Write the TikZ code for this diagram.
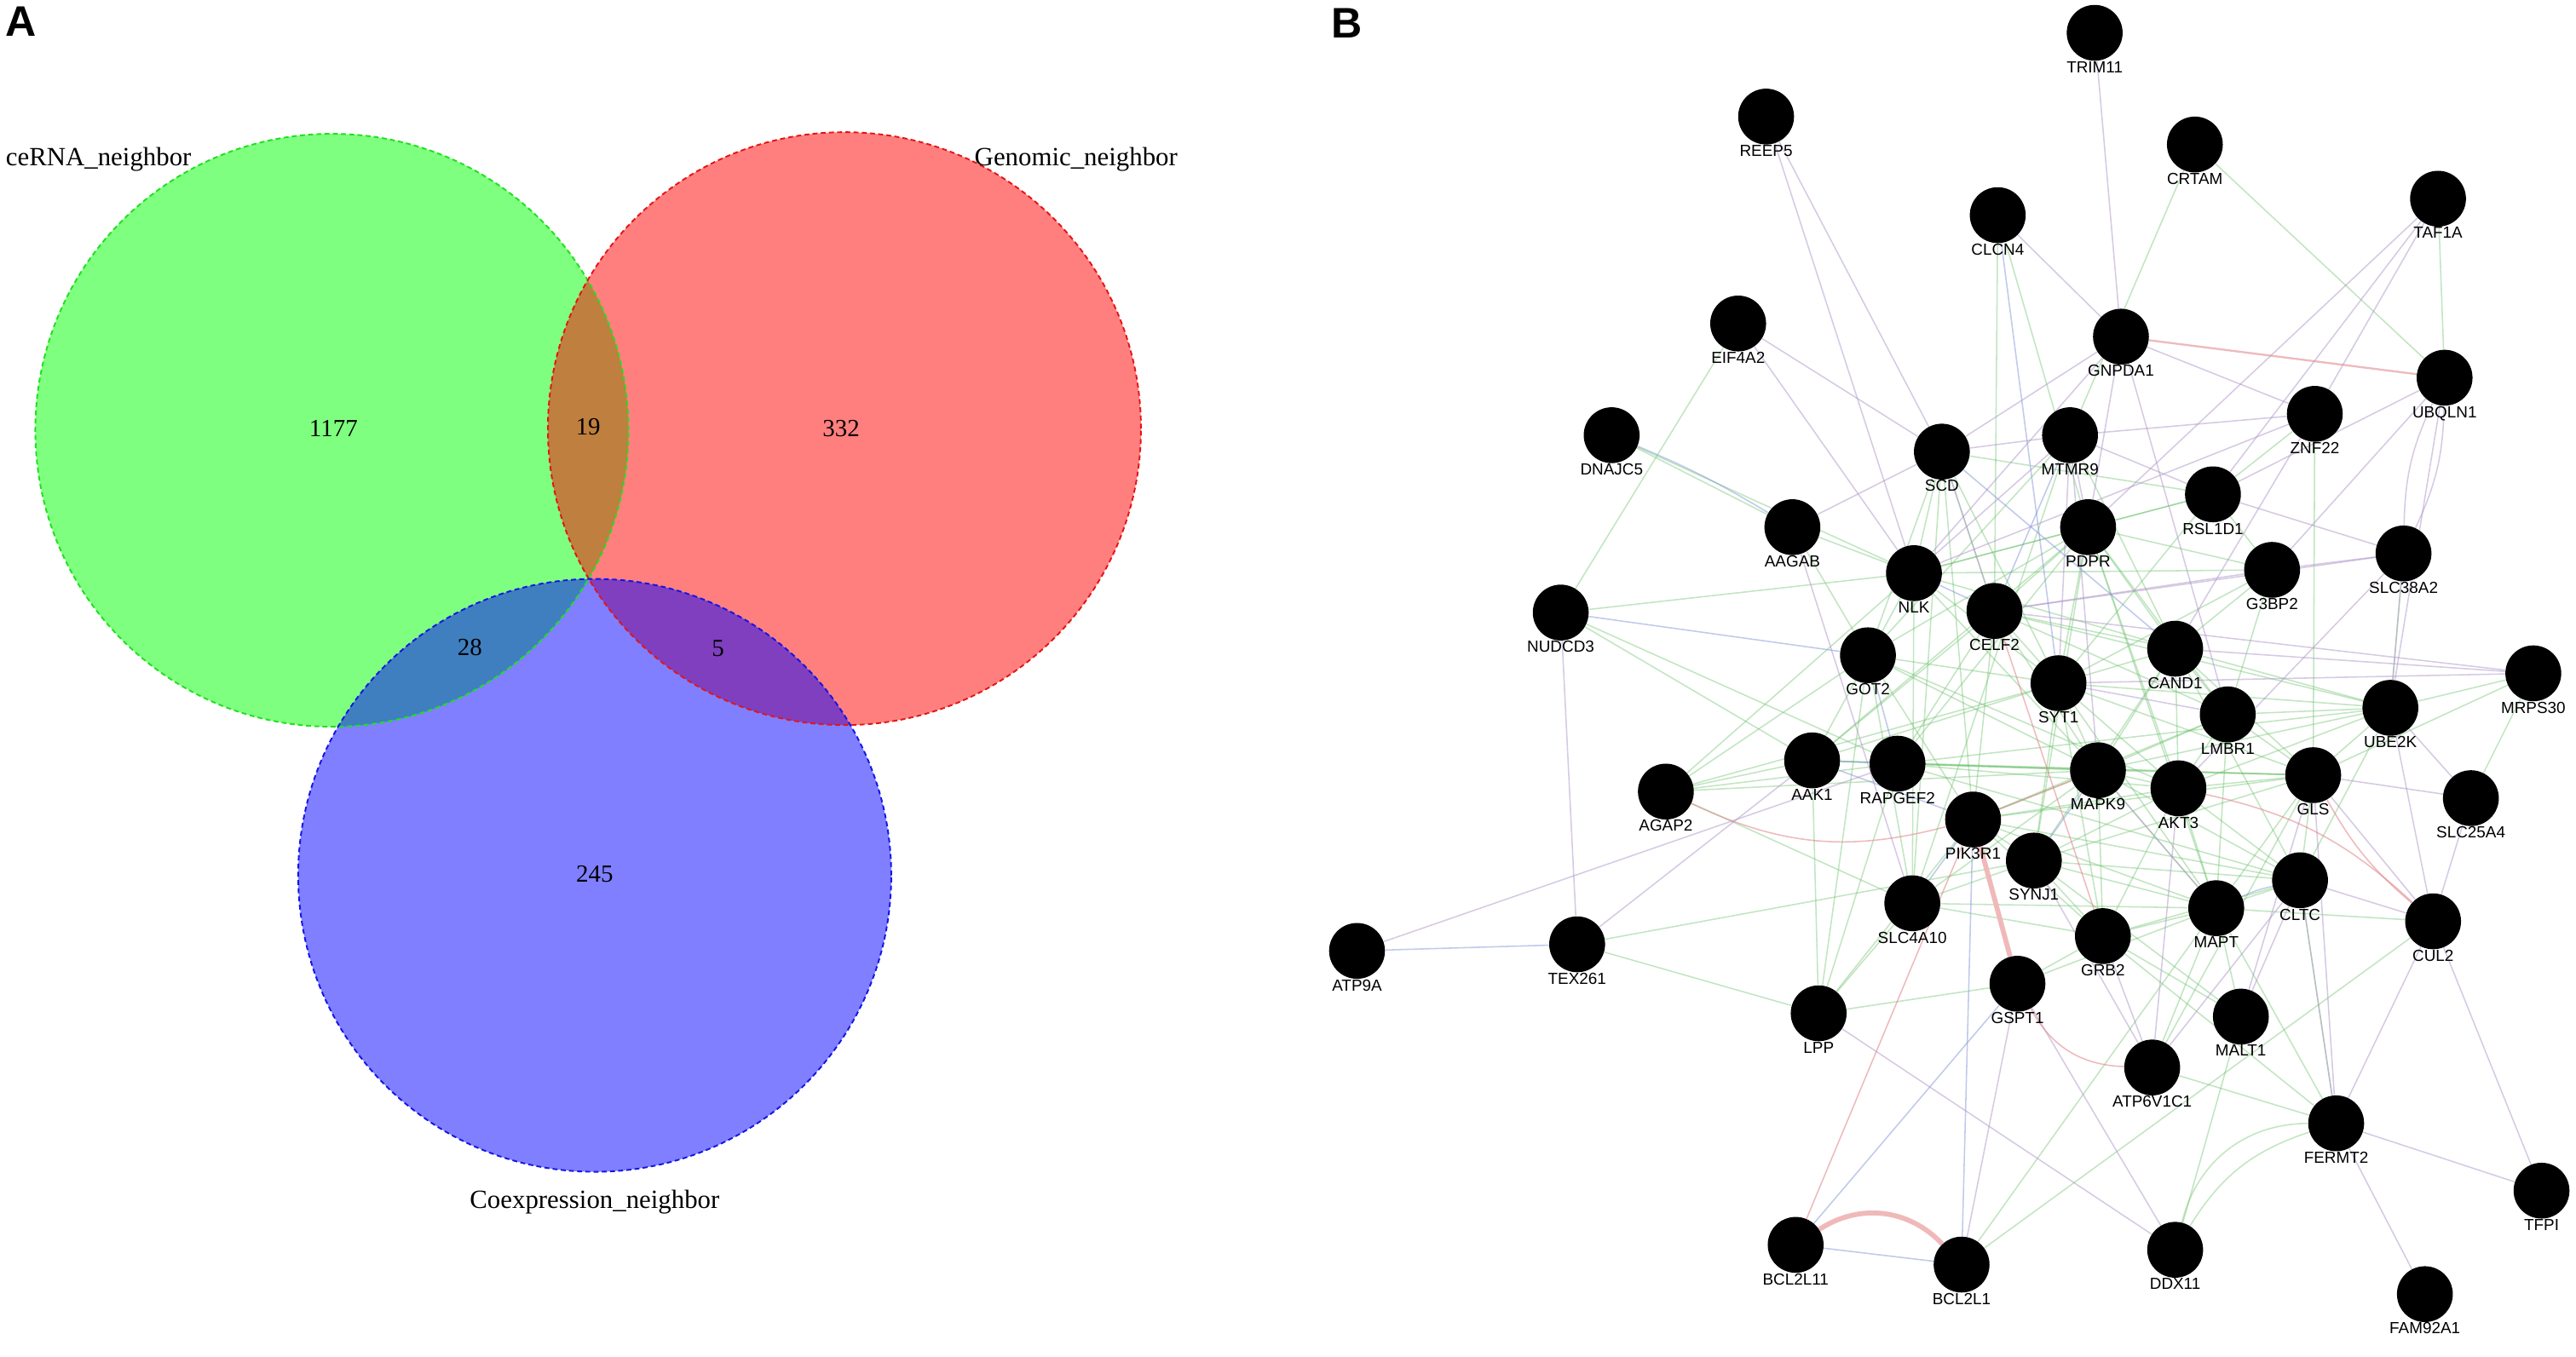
\documentclass[tikz,border=0pt]{standalone}
\usepackage{fontspec}
\setmainfont{Liberation Serif}
\newfontfamily\genefont{Liberation Sans}
\usepackage{tikz}
\usetikzlibrary{positioning}
\pgfdeclarelayer{edges}
\pgfsetlayers{edges,main}
\definecolor{vgreenline}{RGB}{30,225,30}
\definecolor{vredline}{RGB}{230,20,20}
\definecolor{vblueline}{RGB}{20,20,230}
\definecolor{gmgreen}{RGB}{110,195,110}
\definecolor{gmpurple}{RGB}{175,150,200}
\definecolor{gmblue}{RGB}{130,150,215}
\definecolor{gmpink}{RGB}{225,130,135}
\definecolor{gmpinkthick}{RGB}{240,185,185}

\begin{document}
\begin{tikzpicture}[line join=bevel,
  gene/.style={circle,fill=black,minimum size=34bp,inner sep=0pt,label distance=3.5bp},
  genelab/.style={font=\genefont\fontsize{9.8bp}{10bp}\selectfont,inner sep=0pt},
  vlab/.style={font=\fontsize{16bp}{18bp}\selectfont,inner sep=0pt},
  vnum/.style={font=\fontsize{15bp}{17bp}\selectfont,inner sep=0pt},
  panel/.style={font=\genefont\bfseries\fontsize{26bp}{28bp}\selectfont,inner sep=0pt},
  vborder/.style={line width=1bp,dash pattern=on 3bp off 2bp},
  genint/.style={draw=gmgreen,line width=0.8bp,draw opacity=0.42},
  coexp/.style={draw=gmpurple,line width=0.8bp,draw opacity=0.5},
  coloc/.style={draw=gmblue,line width=0.8bp,draw opacity=0.5},
  physint/.style={draw=gmpink,line width=0.8bp,draw opacity=0.55},
  physthick/.style={draw=gmpinkthick,line width=3bp}]
\begin{pgfonlayer}{edges}
\fill[white] (0bp,0bp) rectangle (1568bp,826bp);
\end{pgfonlayer}
\useasboundingbox (0bp,0bp) rectangle (1568bp,826bp);
%%
\node (panel_a) at (13bp,813bp) [panel] {A};
\node (panel_b) at (820bp,812bp) [panel] {B};
%% venn diagram
\fill [green,fill opacity=0.5] (202bp,564bp) circle (180.5bp);
\fill [red,fill opacity=0.5] (514bp,565bp) circle (180.5bp);
\fill [blue,fill opacity=0.5] (362bp,293bp) circle (180.5bp);
\draw [vborder,draw=vgreenline] (202bp,564bp) circle (180.5bp);
\draw [vborder,draw=vredline] (514bp,565bp) circle (180.5bp);
\draw [vborder,draw=vblueline] (362bp,293bp) circle (180.5bp);
\node (lab_cerna) at (60bp,729bp) [vlab] {ceRNA\_neighbor};
\node (lab_genomic) at (655bp,729bp) [vlab] {Genomic\_neighbor};
\node (lab_coexp) at (362bp,94bp) [vlab] {Coexpression\_neighbor};
\node (cnt_1177) at (203bp,565bp) [vnum] {1177};
\node (cnt_19) at (358bp,566bp) [vnum] {19};
\node (cnt_332) at (512bp,565bp) [vnum] {332};
\node (cnt_28) at (286bp,432bp) [vnum] {28};
\node (cnt_5) at (437bp,431bp) [vnum] {5};
\node (cnt_245) at (362bp,294bp) [vnum] {245};
%% network
\node (TRIM11) at (1275bp,806bp) [gene,label={[genelab]below:TRIM11}] {};
\node (REEP5) at (1075bp,755bp) [gene,label={[genelab]below:REEP5}] {};
\node (CRTAM) at (1336bp,738bp) [gene,label={[genelab]below:CRTAM}] {};
\node (TAF1A) at (1484bp,705bp) [gene,label={[genelab]below:TAF1A}] {};
\node (CLCN4) at (1216bp,695bp) [gene,label={[genelab]below:CLCN4}] {};
\node (EIF4A2) at (1058bp,629bp) [gene,label={[genelab]below:EIF4A2}] {};
\node (GNPDA1) at (1291bp,621bp) [gene,label={[genelab]below:GNPDA1}] {};
\node (UBQLN1) at (1488bp,596bp) [gene,label={[genelab]below:UBQLN1}] {};
\node (DNAJC5) at (981bp,561bp) [gene,label={[genelab]below:DNAJC5}] {};
\node (ZNF22) at (1409bp,574bp) [gene,label={[genelab]below:ZNF22}] {};
\node (MTMR9) at (1260bp,561bp) [gene,label={[genelab]below:MTMR9}] {};
\node (SCD) at (1182bp,551bp) [gene,label={[genelab]below:SCD}] {};
\node (RSL1D1) at (1347bp,525bp) [gene,label={[genelab]below:RSL1D1}] {};
\node (AAGAB) at (1091bp,505bp) [gene,label={[genelab]below:AAGAB}] {};
\node (PDPR) at (1271bp,505bp) [gene,label={[genelab]below:PDPR}] {};
\node (SLC38A2) at (1463bp,489bp) [gene,label={[genelab]below:SLC38A2}] {};
\node (G3BP2) at (1383bp,479bp) [gene,label={[genelab]below:G3BP2}] {};
\node (NLK) at (1165bp,477bp) [gene,label={[genelab]below:NLK}] {};
\node (CELF2) at (1214bp,454bp) [gene,label={[genelab]below:CELF2}] {};
\node (NUDCD3) at (950bp,453bp) [gene,label={[genelab]below:NUDCD3}] {};
\node (CAND1) at (1324bp,431bp) [gene,label={[genelab]below:CAND1}] {};
\node (GOT2) at (1137bp,427bp) [gene,label={[genelab]below:GOT2}] {};
\node (SYT1) at (1253bp,410bp) [gene,label={[genelab]below:SYT1}] {};
\node (MRPS30) at (1542bp,416bp) [gene,label={[genelab]below:MRPS30}] {};
\node (UBE2K) at (1455bp,395bp) [gene,label={[genelab]below:UBE2K}] {};
\node (LMBR1) at (1356bp,391bp) [gene,label={[genelab]below:LMBR1}] {};
\node (AAK1) at (1103bp,363bp) [gene,label={[genelab]below:AAK1}] {};
\node (RAPGEF2) at (1155bp,361bp) [gene,label={[genelab]below:RAPGEF2}] {};
\node (MAPK9) at (1277bp,357bp) [gene,label={[genelab]below:MAPK9}] {};
\node (AKT3) at (1326bp,346bp) [gene,label={[genelab]below:AKT3}] {};
\node (GLS) at (1408bp,354bp) [gene,label={[genelab]below:GLS}] {};
\node (AGAP2) at (1014bp,344bp) [gene,label={[genelab]below:AGAP2}] {};
\node (SLC25A4) at (1504bp,340bp) [gene,label={[genelab]below:SLC25A4}] {};
\node (PIK3R1) at (1201bp,327bp) [gene,label={[genelab]below:PIK3R1}] {};
\node (SYNJ1) at (1238bp,302bp) [gene,label={[genelab]below:SYNJ1}] {};
\node (CLTC) at (1400bp,290bp) [gene,label={[genelab]below:CLTC}] {};
\node (MAPT) at (1349bp,273bp) [gene,label={[genelab]below:MAPT}] {};
\node (SLC4A10) at (1164bp,276bp) [gene,label={[genelab]below:SLC4A10}] {};
\node (GRB2) at (1280bp,256bp) [gene,label={[genelab]below:GRB2}] {};
\node (CUL2) at (1481bp,265bp) [gene,label={[genelab]below:CUL2}] {};
\node (ATP9A) at (826bp,247bp) [gene,label={[genelab]below:ATP9A}] {};
\node (TEX261) at (960bp,251bp) [gene,label={[genelab]below:TEX261}] {};
\node (GSPT1) at (1228bp,227bp) [gene,label={[genelab]below:GSPT1}] {};
\node (LPP) at (1107bp,209bp) [gene,label={[genelab]below:LPP}] {};
\node (MALT1) at (1364bp,207bp) [gene,label={[genelab]below:MALT1}] {};
\node (ATP6V1C1) at (1310bp,176bp) [gene,label={[genelab]below:ATP6V1C1}] {};
\node (FERMT2) at (1422bp,142bp) [gene,label={[genelab]below:FERMT2}] {};
\node (TFPI) at (1547bp,101bp) [gene,label={[genelab]below:TFPI}] {};
\node (BCL2L11) at (1093bp,68bp) [gene,label={[genelab]below:BCL2L11}] {};
\node (BCL2L1) at (1194bp,56bp) [gene,label={[genelab]below:BCL2L1}] {};
\node (DDX11) at (1324bp,65bp) [gene,label={[genelab]below:DDX11}] {};
\node (FAM92A1) at (1476bp,38bp) [gene,label={[genelab]below:FAM92A1}] {};
\begin{pgfonlayer}{edges}
%% genetic interactions
\draw [genint] (AGAP2) -- (AAK1);
\draw [genint] (AGAP2) -- (RAPGEF2);
\draw [genint] (AGAP2) -- (NLK);
\draw [genint] (AGAP2) -- (GOT2);
\draw [genint] (AGAP2) -- (MAPK9);
\draw [genint] (AGAP2) -- (SYT1);
\draw [genint] (AGAP2) -- (SLC4A10);
\draw [genint] (AAK1) -- (NLK);
\draw [genint] (AAK1) -- (CELF2);
\draw [genint] (AAK1) -- (SYT1);
\draw [genint] (AAK1) -- (PDPR);
\draw [genint] (AAK1) -- (LPP);
\draw [genint] (AAK1) -- (MAPK9);
\draw [genint] (AAK1) -- (GLS);
\draw [genint] (RAPGEF2) -- (MAPK9);
\draw [genint] (RAPGEF2) -- (AKT3);
\draw [genint] (RAPGEF2) -- (GLS);
\draw [genint] (RAPGEF2) -- (UBE2K);
\draw [genint] (RAPGEF2) -- (CELF2);
\draw [genint] (RAPGEF2) -- (PDPR);
\draw [genint] (RAPGEF2) -- (LPP);
\draw [genint] (RAPGEF2) -- (CLTC);
\draw [genint] (NLK) -- (PDPR);
\draw [genint] (NLK) -- (SYT1);
\draw [genint] (NLK) -- (CAND1);
\draw [genint] (NLK) -- (G3BP2);
\draw [genint] (NLK) -- (MAPK9);
\draw [genint] (NLK) -- (SLC4A10);
\draw [genint] (NLK) -- (NUDCD3);
\draw [genint] (NLK) -- (RSL1D1);
\draw [genint] (CELF2) -- (SYT1);
\draw [genint] (CELF2) -- (PDPR);
\draw [genint] (CELF2) -- (CAND1);
\draw [genint] (CELF2) -- (MAPK9);
\draw [genint] (CELF2) -- (PIK3R1);
\draw [genint] (CELF2) -- (LMBR1);
\draw [genint] (CELF2) -- (UBE2K);
\draw [genint] (CELF2) -- (SCD);
\draw [genint] (GOT2) -- (SYT1);
\draw [genint] (GOT2) -- (PIK3R1);
\draw [genint] (GOT2) -- (MAPK9);
\draw [genint] (GOT2) -- (SLC4A10);
\draw [genint] (GOT2) -- (AKT3);
\draw [genint] (GOT2) -- (PDPR);
\draw [genint] (GOT2) -- (LPP);
\draw [genint] (SYT1) -- (MAPK9);
\draw [genint] (SYT1) -- (CAND1);
\draw [genint] (SYT1) -- (GLS);
\draw [genint] (SYT1) -- (AKT3);
\draw [genint] (SYT1) -- (SYNJ1);
\draw [genint] (SYT1) -- (PDPR);
\draw [genint] (SYT1) -- (GRB2);
\draw [genint] (SYT1) -- (MAPT);
\draw [genint] (SYT1) -- (UBE2K);
\draw [genint] (SYT1) -- (RSL1D1);
\draw [genint] (SYT1) -- (G3BP2);
\draw [genint] (PDPR) -- (CAND1);
\draw [genint] (PDPR) -- (LMBR1);
\draw [genint] (PDPR) -- (RSL1D1);
\draw [genint] (PDPR) -- (G3BP2);
\draw [genint] (PDPR) -- (SYNJ1);
\draw [genint] (PDPR) -- (MAPT);
\draw [genint] (PDPR) -- (AKT3);
\draw [genint] (MTMR9) -- (GOT2);
\draw [genint] (MTMR9) -- (SLC4A10);
\draw [genint] (MTMR9) -- (CAND1);
\draw [genint] (SCD) -- (NLK);
\draw [genint] (SCD) -- (SYT1);
\draw [genint] (SCD) -- (GOT2);
\draw [genint] (SCD) -- (PIK3R1);
\draw [genint] (SCD) -- (RSL1D1);
\draw [genint] (SCD) -- (SLC4A10);
\draw [genint] (CAND1) -- (LMBR1);
\draw [genint] (CAND1) -- (GLS);
\draw [genint] (CAND1) -- (MAPK9);
\draw [genint] (CAND1) -- (AKT3);
\draw [genint] (CAND1) -- (UBE2K);
\draw [genint] (CAND1) -- (CLTC);
\draw [genint] (CAND1) -- (SYNJ1);
\draw [genint] (LMBR1) -- (GLS);
\draw [genint] (LMBR1) -- (MAPK9);
\draw [genint] (LMBR1) -- (AKT3);
\draw [genint] (LMBR1) -- (UBE2K);
\draw [genint] (LMBR1) -- (PIK3R1);
\draw [genint] (LMBR1) -- (MAPT);
\draw [genint] (MAPK9) -- (AKT3);
\draw [genint] (MAPK9) -- (GLS);
\draw [genint] (MAPK9) -- (PIK3R1);
\draw [genint] (MAPK9) -- (GRB2);
\draw [genint] (MAPK9) -- (MAPT);
\draw [genint] (MAPK9) -- (CLTC);
\draw [genint] (MAPK9) -- (UBE2K);
\draw [genint] (MAPK9) -- (SLC4A10);
\draw [genint] (AKT3) -- (GLS);
\draw [genint] (AKT3) -- (MAPT);
\draw [genint] (AKT3) -- (CLTC);
\draw [genint] (AKT3) -- (SYNJ1);
\draw [genint] (AKT3) -- (PIK3R1);
\draw [genint] (AKT3) -- (GRB2);
\draw [genint] (AKT3) -- (UBE2K);
\draw [genint] (GLS) -- (UBE2K);
\draw [genint] (GLS) -- (CLTC);
\draw [genint] (GLS) -- (MAPT);
\draw [genint] (GLS) -- (PIK3R1);
\draw [genint] (GLS) -- (SYNJ1);
\draw [genint] (GLS) -- (MRPS30);
\draw [genint] (PIK3R1) -- (SYNJ1);
\draw [genint] (PIK3R1) -- (GRB2);
\draw [genint] (PIK3R1) -- (MAPT);
\draw [genint] (PIK3R1) -- (CLTC);
\draw [genint] (PIK3R1) -- (LPP);
\draw [genint] (SYNJ1) -- (GRB2);
\draw [genint] (SYNJ1) -- (MAPT);
\draw [genint] (SYNJ1) -- (CLTC);
\draw [genint] (SYNJ1) -- (SLC4A10);
\draw [genint] (SYNJ1) -- (MALT1);
\draw [genint] (SLC4A10) -- (GRB2);
\draw [genint] (SLC4A10) -- (LPP);
\draw [genint] (SLC4A10) -- (MAPT);
\draw [genint] (GRB2) -- (MAPT);
\draw [genint] (GRB2) -- (CLTC);
\draw [genint] (GRB2) -- (GSPT1);
\draw [genint] (GRB2) -- (FERMT2);
\draw [genint] (GRB2) -- (MALT1);
\draw [genint] (MAPT) -- (CLTC);
\draw [genint] (MAPT) -- (MALT1);
\draw [genint] (MAPT) -- (CUL2);
\draw [genint] (MAPT) -- (GSPT1);
\draw [genint] (CLTC) -- (UBE2K);
\draw [genint] (CLTC) -- (FERMT2);
\draw [genint] (UBE2K) -- (MRPS30);
\draw [genint] (UBE2K) -- (SLC38A2);
\draw [genint] (G3BP2) -- (RSL1D1);
\draw [genint] (G3BP2) -- (LMBR1);
\draw [genint] (G3BP2) -- (CAND1);
\draw [genint] (RSL1D1) -- (ZNF22);
\draw [genint] (ZNF22) -- (GLS);
\draw [genint] (TEX261) -- (LPP);
\draw [genint] (TEX261) -- (SYNJ1);
\draw [genint] (NUDCD3) -- (AAK1);
\draw [genint] (NUDCD3) -- (RAPGEF2);
\draw [genint] (EIF4A2) -- (NUDCD3);
\draw [genint] (DNAJC5) -- (AAGAB);
\draw [genint] (DNAJC5) -- (NLK);
\draw [genint] (AAGAB) -- (NLK);
\draw [genint] (AAGAB) -- (GOT2);
\draw [genint] (CRTAM) -- (UBQLN1);
\draw [genint] (CRTAM) -- (MTMR9);
\draw [genint] (TAF1A) -- (UBQLN1);
\draw [genint] (CLCN4) -- (CELF2);
\draw [genint] (CLCN4) -- (PDPR);
\draw [genint] (DDX11) -- (MALT1);
\draw [genint] (DDX11) to [bend left=20] (FERMT2);
\draw [genint] (DDX11) to [bend left=38] (FERMT2);
\draw [genint] (BCL2L1) -- (CUL2);
\draw [genint] (BCL2L1) -- (MAPT);
\draw [genint] (LPP) -- (GSPT1);
\draw [genint] (FERMT2) -- (MAPT);
\draw [genint] (FERMT2) -- (ATP6V1C1);
\draw [genint] (MRPS30) -- (SLC25A4);
\draw [genint] (ATP6V1C1) -- (MAPT);
\draw [genint] (ATP6V1C1) -- (GLS);
%% co-expression
\draw [coexp] (TRIM11) -- (GNPDA1);
\draw [coexp] (REEP5) -- (SCD);
\draw [coexp] (REEP5) -- (NLK);
\draw [coexp] (EIF4A2) -- (SCD);
\draw [coexp] (EIF4A2) -- (NLK);
\draw [coexp] (CLCN4) -- (GNPDA1);
\draw [coexp] (TAF1A) -- (PDPR);
\draw [coexp] (TAF1A) -- (ZNF22);
\draw [coexp] (TAF1A) -- (RSL1D1);
\draw [coexp] (GNPDA1) -- (ZNF22);
\draw [coexp] (GNPDA1) -- (SCD);
\draw [coexp] (GNPDA1) -- (NLK);
\draw [coexp] (GNPDA1) -- (PDPR);
\draw [coexp] (GNPDA1) -- (LMBR1);
\draw [coexp] (UBQLN1) to [bend left=12] (SLC38A2);
\draw [coexp] (UBQLN1) to [bend right=12] (SLC38A2);
\draw [coexp] (UBQLN1) -- (RSL1D1);
\draw [coexp] (UBQLN1) -- (UBE2K);
\draw [coexp] (UBQLN1) -- (G3BP2);
\draw [coexp] (ZNF22) -- (MTMR9);
\draw [coexp] (ZNF22) -- (CAND1);
\draw [coexp] (ZNF22) -- (NLK);
\draw [coexp] (RSL1D1) -- (SLC38A2);
\draw [coexp] (RSL1D1) -- (MTMR9);
\draw [coexp] (G3BP2) -- (SLC38A2);
\draw [coexp] (SLC38A2) -- (CELF2);
\draw [coexp] (SLC38A2) -- (AKT3);
\draw [coexp] (SLC38A2) -- (UBE2K);
\draw [coexp] (MRPS30) -- (CELF2);
\draw [coexp] (MRPS30) -- (SYT1);
\draw [coexp] (CAND1) -- (MRPS30);
\draw [coexp] (NUDCD3) -- (TEX261);
\draw [coexp] (ATP9A) -- (RAPGEF2);
\draw [coexp] (TEX261) -- (AAK1);
\draw [coexp] (AAGAB) -- (SCD);
\draw [coexp] (AAGAB) -- (SLC4A10);
\draw [coexp] (SCD) -- (MTMR9);
\draw [coexp] (SCD) -- (CELF2);
\draw [coexp] (MTMR9) -- (MAPK9);
\draw [coexp] (MTMR9) -- (NLK);
\draw [coexp] (MTMR9) -- (SYT1);
\draw [coexp] (PDPR) -- (MTMR9);
\draw [coexp] (CELF2) -- (G3BP2);
\draw [coexp] (SYT1) -- (LMBR1);
\draw [coexp] (MAPK9) -- (MAPT);
\draw [coexp] (CUL2) -- (SLC25A4);
\draw [coexp] (CUL2) -- (TFPI);
\draw [coexp] (CLTC) -- (CUL2);
\draw [coexp] (FERMT2) -- (TFPI);
\draw [coexp] (FERMT2) -- (FAM92A1);
\draw [coexp] (FERMT2) -- (CUL2);
\draw [coexp] (FERMT2) -- (CLTC);
\draw [coexp] (FERMT2) -- (GLS);
\draw [coexp] (DDX11) -- (GSPT1);
\draw [coexp] (LPP) -- (DDX11);
\draw [coexp] (BCL2L1) -- (GSPT1);
\draw [coexp] (MALT1) -- (CLTC);
\draw [coexp] (MALT1) -- (GLS);
\draw [coexp] (ATP6V1C1) -- (CLTC);
\draw [coexp] (ATP6V1C1) -- (GRB2);
\draw [coexp] (ATP6V1C1) -- (AKT3);
\draw [coexp] (ATP6V1C1) -- (SYNJ1);
\draw [coexp] (GLS) -- (CUL2);
\draw [coexp] (UBE2K) -- (CUL2);
\draw [coexp] (SLC25A4) -- (GLS);
\draw [coexp] (SLC25A4) -- (UBE2K);
%% co-localization
\draw [coloc] (NUDCD3) -- (GOT2);
\draw [coloc] (DNAJC5) to [bend left=4] (AAGAB);
\draw [coloc] (CLCN4) -- (SYT1);
\draw [coloc] (BCL2L11) -- (BCL2L1);
\draw [coloc] (BCL2L11) -- (GSPT1);
\draw [coloc] (BCL2L1) -- (PIK3R1);
\draw [coloc] (ATP9A) -- (TEX261);
\draw [coloc] (NLK) -- (CELF2);
\draw [coloc] (SLC4A10) -- (PIK3R1);
\draw [coloc] (MTMR9) -- (CELF2);
\draw [coloc] (SCD) -- (CAND1);
\draw [coloc] (MAPK9) -- (SYNJ1);
\draw [coloc] (AAK1) -- (RAPGEF2);
\draw [coloc] (AAK1) -- (PIK3R1);
\draw [coloc] (MAPT) to [bend left=6] (CLTC);
\draw [coloc] (GOT2) -- (RAPGEF2);
%% physical interactions
\draw [physint,line width=1.2bp] (GNPDA1) -- (UBQLN1);
\draw [physint] (BCL2L11) -- (PIK3R1);
\draw [physint] (AGAP2) to [bend right=20] (PIK3R1);
\draw [physint] (GSPT1) to [bend right=30] (ATP6V1C1);
\draw [physint] (AKT3) to [bend left=15] (CUL2);
\draw [physint] (PIK3R1) -- (MAPK9);
\draw [physint] (CELF2) -- (GRB2);
\draw [physint] (GLS) to [bend right=10] (CUL2);
\draw [physthick] (PIK3R1) -- (GSPT1);
\draw [physthick] (BCL2L11) to [bend left=40] (BCL2L1);
\end{pgfonlayer}
%
\end{tikzpicture}
\end{document}
